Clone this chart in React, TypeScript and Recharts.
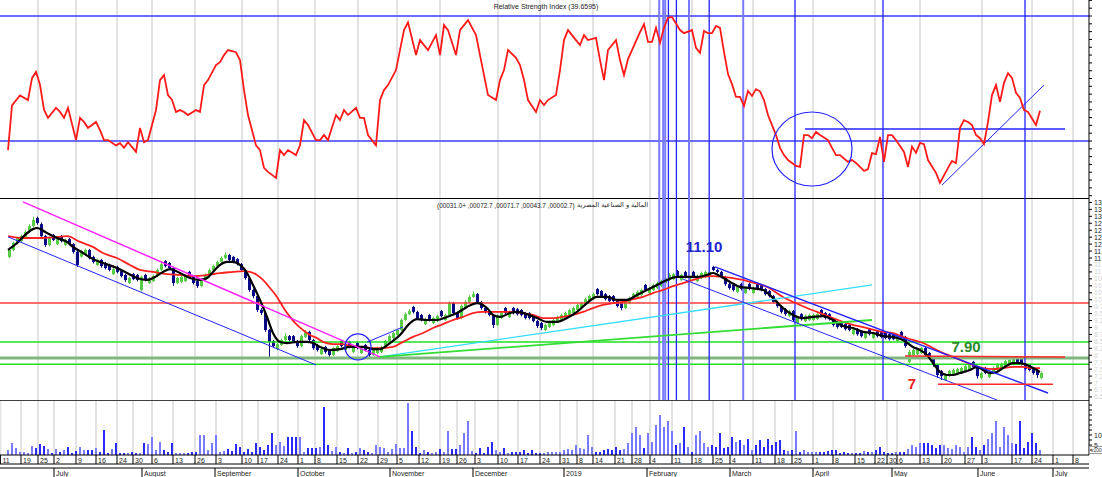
import React from 'react';
import { ComposedChart, Bar, Line, XAxis, YAxis, ReferenceLine, ReferenceDot, Cell, CartesianGrid } from 'recharts';

const X_MIN = -2;
const X_MAX = 270.25;
const RSI_MIN = 11.76;
const RSI_MAX = 75.12;
const PRICE_MIN = 6.39;
const PRICE_MAX = 13.66;
const VOL_MAX = 27.5;

const UP = '#55cc44';
const DOWN = '#0a0a86';
const BLUE = '#2323ff';
const LIGHTBLUE = '#7a7aff';
const FONT = 'Liberation Sans, Arial, sans-serif';

// [open, high, low, close] per trading day
const candles: number[][] = [
  [11.54,11.84,11.49,11.79],[11.79,12.09,11.74,12.04],[12.04,12.27,11.99,12.22],[12.11,12.34,12.07,12.29],[12.26,12.50,12.22,12.44],
  [12.44,12.72,12.40,12.65],[12.65,12.98,12.60,12.87],[12.94,12.99,12.70,12.76],[12.72,12.78,12.22,12.29],[12.29,12.33,11.90,11.97],
  [11.97,12.27,11.92,12.22],[12.33,12.37,12.11,12.15],[12.00,12.23,11.96,12.18],[12.29,12.33,12.06,12.11],[11.97,12.20,11.93,12.15],
  [12.18,12.22,11.95,12.00],[12.00,12.04,11.66,11.72],[11.72,11.76,11.18,11.25],[11.55,11.80,11.51,11.75],[11.61,11.84,11.57,11.79],
  [11.79,11.83,11.45,11.50],[11.54,11.58,11.30,11.36],[11.25,11.48,11.21,11.43],[11.43,11.47,11.15,11.21],[11.32,11.36,11.09,11.14],
  [11.25,11.29,11.02,11.07],[10.92,11.15,10.88,11.10],[11.18,11.22,10.95,11.00],[11.03,11.07,10.80,10.85],[10.89,10.93,10.64,10.71],
  [10.60,10.83,10.56,10.78],[10.92,10.96,10.70,10.74],[10.89,10.93,10.66,10.71],[10.35,10.87,10.30,10.82],[10.89,10.93,10.66,10.71],
  [10.60,10.83,10.56,10.78],[10.67,10.90,10.63,10.85],[10.85,11.12,10.81,11.07],[11.07,11.36,11.03,11.28],[11.39,11.43,11.16,11.21],
  [11.32,11.36,11.09,11.14],[11.14,11.18,10.50,10.60],[10.60,10.83,10.56,10.78],[10.64,10.87,10.60,10.82],[10.67,10.90,10.63,10.85],
  [11.00,11.04,10.77,10.82],[10.82,10.86,10.55,10.60],[10.67,10.71,10.42,10.49],[10.49,10.76,10.45,10.71],[10.71,10.94,10.67,10.89],
  [10.89,11.12,10.85,11.07],[11.07,11.26,11.03,11.21],[11.21,11.41,11.17,11.36],[11.36,11.56,11.32,11.50],[11.50,11.70,11.46,11.61],
  [11.61,11.65,11.38,11.43],[11.54,11.58,11.31,11.36],[11.46,11.50,11.23,11.28],[11.28,11.32,11.02,11.07],[11.07,11.11,10.72,10.78],
  [10.78,10.82,10.28,10.35],[10.35,10.40,10.05,10.13],[10.13,10.17,9.56,9.63],[9.63,9.70,9.45,9.52],[9.52,9.56,8.84,8.91],
  [8.91,8.95,7.94,8.48],[8.51,8.55,8.28,8.33],[8.22,8.45,8.18,8.40],[8.37,8.60,8.33,8.55],[8.55,8.80,8.51,8.69],
  [8.69,8.73,8.50,8.55],[8.69,8.73,8.46,8.51],[8.51,8.55,8.27,8.33],[8.33,8.74,8.29,8.69],[8.66,8.90,8.62,8.84],
  [8.84,8.88,8.50,8.55],[8.55,8.59,8.20,8.26],[8.37,8.41,8.13,8.19],[8.04,8.27,8.00,8.22],[8.30,8.34,8.06,8.12],
  [8.19,8.23,7.94,8.01],[8.01,8.31,7.97,8.26],[8.15,8.38,8.11,8.33],[8.51,8.55,8.28,8.33],[8.19,8.42,8.15,8.37],
  [8.48,8.52,8.25,8.30],[8.12,8.35,8.08,8.30],[8.44,8.48,8.21,8.26],[8.08,8.31,8.04,8.26],[8.37,8.41,8.14,8.19],
  [8.19,8.23,7.94,8.01],[8.01,8.24,7.97,8.19],[8.08,8.31,8.04,8.26],[8.12,8.35,8.08,8.30],[8.30,8.56,8.26,8.51],
  [8.51,8.75,8.47,8.69],[8.62,8.85,8.58,8.80],[8.73,8.96,8.69,8.91],[8.91,9.33,8.87,9.27],[9.27,9.54,9.23,9.48],
  [9.48,9.66,9.44,9.59],[9.74,9.78,9.50,9.56],[9.56,9.60,9.29,9.34],[9.45,9.49,9.22,9.27],[9.12,9.35,9.08,9.30],
  [9.45,9.49,9.22,9.27],[9.16,9.39,9.12,9.34],[9.23,9.46,9.19,9.41],[9.59,9.63,9.36,9.41],[9.27,9.50,9.23,9.45],
  [9.45,9.95,9.41,9.88],[9.88,9.92,9.47,9.52],[9.52,9.56,9.29,9.34],[9.34,9.83,9.30,9.77],[9.74,9.98,9.70,9.92],
  [9.92,10.16,9.88,10.10],[10.10,10.30,10.06,10.20],[10.20,10.24,9.87,9.92],[9.92,9.96,9.64,9.70],[9.70,9.74,9.50,9.56],
  [9.56,9.62,9.40,9.45],[9.45,9.49,8.98,9.09],[9.09,9.47,9.05,9.41],[9.34,9.58,9.30,9.52],[9.70,9.74,9.47,9.52],
  [9.38,9.61,9.34,9.56],[9.70,9.74,9.47,9.52],[9.66,9.70,9.43,9.48],[9.63,9.67,9.40,9.45],[9.52,9.56,9.29,9.34],
  [9.52,9.56,9.29,9.34],[9.41,9.45,9.18,9.23],[9.23,9.27,8.98,9.05],[9.16,9.20,8.90,8.98],[8.91,9.14,8.87,9.09],
  [9.02,9.25,8.98,9.20],[9.09,9.32,9.05,9.27],[9.20,9.43,9.16,9.38],[9.27,9.50,9.23,9.45],[9.34,9.57,9.30,9.52],
  [9.45,9.68,9.41,9.63],[9.52,9.75,9.48,9.70],[9.63,9.86,9.59,9.81],[9.70,9.93,9.66,9.88],[9.84,10.08,9.80,10.02],
  [9.95,10.18,9.91,10.13],[10.02,10.26,9.98,10.20],[10.38,10.42,10.15,10.20],[10.31,10.35,10.08,10.13],[10.20,10.24,9.97,10.02],
  [10.13,10.17,9.90,9.95],[10.13,10.17,9.91,9.95],[9.95,9.99,9.72,9.77],[9.88,9.92,9.62,9.70],[9.70,9.97,9.66,9.92],
  [9.88,10.11,9.84,10.06],[10.06,10.25,10.02,10.20],[10.10,10.33,10.06,10.28],[10.17,10.40,10.13,10.35],[10.53,10.57,10.31,10.35],
  [10.24,10.47,10.20,10.42],[10.35,10.58,10.31,10.53],[10.42,10.65,10.38,10.60],[10.49,10.72,10.45,10.67],[10.60,10.83,10.56,10.78],
  [10.71,10.96,10.67,10.89],[10.74,10.97,10.70,10.92],[11.03,11.07,10.80,10.85],[10.71,10.94,10.67,10.89],[11.00,11.04,10.77,10.82],
  [10.67,10.90,10.63,10.85],[11.00,11.04,10.77,10.82],[10.67,10.90,10.63,10.85],[10.78,11.01,10.74,10.96],[10.82,11.05,10.78,11.00],
  [10.82,11.06,10.78,11.00],[11.18,11.22,11.03,11.07],[11.07,11.11,10.95,11.00],[11.00,11.04,10.77,10.82],[10.82,10.86,10.50,10.56],
  [10.56,10.60,10.36,10.42],[10.53,10.57,10.29,10.35],[10.28,10.51,10.24,10.46],[10.57,10.61,10.33,10.39],[10.24,10.47,10.20,10.42],
  [10.57,10.61,10.34,10.39],[10.24,10.47,10.20,10.42],[10.57,10.61,10.34,10.39],[10.53,10.57,10.30,10.35],[10.38,10.42,10.15,10.20],
  [10.31,10.35,10.08,10.13],[10.13,10.17,9.86,9.92],[9.92,9.96,9.71,9.77],[9.77,9.81,9.50,9.56],[9.66,9.70,9.42,9.48],
  [9.41,9.64,9.37,9.59],[9.59,9.63,9.20,9.27],[9.16,9.39,9.12,9.34],[9.48,9.52,9.25,9.30],[9.23,9.46,9.19,9.41],
  [9.27,9.50,9.23,9.45],[9.27,9.50,9.23,9.45],[9.30,9.53,9.26,9.48],[9.63,9.67,9.40,9.45],[9.52,9.56,9.29,9.34],
  [9.48,9.52,9.25,9.30],[9.30,9.34,9.03,9.09],[9.20,9.24,8.96,9.02],[9.20,9.24,8.98,9.02],[9.12,9.16,8.89,8.94],
  [9.09,9.13,8.86,8.91],[8.76,8.99,8.72,8.94],[8.94,8.98,8.70,8.76],[8.87,8.91,8.64,8.69],[8.62,8.85,8.58,8.80],
  [8.94,8.98,8.71,8.76],[8.62,8.85,8.58,8.80],[8.87,8.91,8.64,8.69],[8.84,8.88,8.61,8.66],[8.80,8.84,8.57,8.62],
  [8.76,8.80,8.53,8.58],[8.76,8.80,8.54,8.58],[8.51,8.74,8.47,8.69],[8.84,8.88,8.61,8.66],[8.66,8.70,8.27,8.33],
  [7.76,8.20,7.72,8.12],[8.01,8.24,7.97,8.19],[8.04,8.27,8.00,8.22],[8.08,8.31,8.04,8.26],[8.26,8.30,7.95,8.01],
  [8.08,8.12,7.84,7.90],[7.90,7.94,7.58,7.65],[7.65,7.69,7.18,7.29],[7.43,7.47,7.11,7.25],[7.11,7.34,7.07,7.29],
  [7.25,7.48,7.21,7.43],[7.29,7.52,7.25,7.47],[7.32,7.55,7.28,7.50],[7.36,7.59,7.32,7.54],[7.43,7.66,7.39,7.61],
  [7.47,7.70,7.43,7.65],[7.76,7.80,7.53,7.58],[7.58,7.62,7.16,7.25],[7.18,7.41,7.14,7.36],[7.54,7.58,7.32,7.36],
  [7.22,7.45,7.18,7.40],[7.36,7.59,7.32,7.54],[7.47,7.70,7.43,7.65],[7.50,7.74,7.46,7.68],[7.61,7.84,7.57,7.79],
  [7.65,7.88,7.61,7.83],[7.68,7.92,7.64,7.86],[7.94,7.98,7.71,7.76],[7.86,7.90,7.63,7.68],[7.68,7.72,7.45,7.50],
  [7.65,7.69,7.42,7.47],[7.54,7.58,7.30,7.36],[7.47,7.51,7.18,7.29],[7.18,7.41,7.14,7.36],
];

// volume per trading day (panel scale x100)
const volumes: number[] = [
  2.5,6,3.5,1.5,1.5,1,4.5,3.5,5.5,4.5,
  3,1,3,1.5,2.5,4,1,2,4,2.5,
  2.5,2.5,3.5,1.5,12.5,1,3,6,1,1,
  1,1.5,1,1,6,5.5,9,2.5,6.5,2.5,
  1.5,6,1,1,1,1,1.5,1.5,10,10,
  2.5,6,10,1.5,2,3,2,5.5,4,1.5,
  3,1.5,6,4,2.5,5,11,5,6.5,4.5,
  9,9,9,9,1.5,3.5,3.5,3.5,4,24,
  5,2,4,1.5,1,3.5,1,1.5,3.5,2.5,
  1.5,1,5,4,3.5,1.5,3,5.5,3.5,3.5,
  26,12,4,1,2.5,1.5,1,1.5,3,1.5,
  12,3,3,5,11,17,2,1,3.5,1,
  4,6.5,2.5,1.5,3.5,1,1.5,1.5,1.5,2.5,
  1,2.5,1,1,1,1.5,1.5,1.5,1.5,2.5,
  3,2.5,5,3.5,3,10,4,1.5,1.5,2.5,
  3,2.5,4,2.5,3,6,11,14,10,3.5,
  11,6.5,15,20,14,17,12,5,6,14,
  4,1.5,10,12,6,4,5,4,11,3.5,
  4,9,6.5,7.5,5,8,2.5,5,7.5,4,
  8,5,6.5,7.5,2.5,2,2.5,12,1.5,2.5,
  1.5,1.5,1.5,1.5,1.5,2,2.5,2.5,1,1.5,
  1,1,1,1,2,1.5,1.5,2.5,4,1.5,
  1,1,1.5,1.5,1.5,3,5,4,6,6,
  6,5,3.5,5,5,3.5,3,5,4,1.5,
  4,9,4,2.5,5,8,11,17,4,14,
  10,6,5.5,17,3.5,6.5,11,6,2.5,
];

// RSI: [day, value]
const rsiPoints: number[][] = [
  [0,27.1],[1,41.4],[3,44.6],[5,43.1],[6,50.1],[7,52.1],[8,48.0],[9,40.0],[10,37.4],[12,40.6],[13,39.3],[14,37.4],[15,40.6],
  [17,30.3],[18,37.4],[19,36.1],[20,34.2],[22,36.1],[23,33.5],[24,30.3],[25,30.3],[27,28.6],[28,29.3],[29,27.8],[30,29.6],
  [32,26.5],[33,34.2],[34,29.6],[35,30.3],[37,39.9],[38,49.5],[39,51.1],[40,44.7],[41,43.1],[42,39.3],[43,39.9],[44,39.3],
  [45,38.3],[47,39.9],[48,39.3],[49,47.9],[50,49.5],[52,54.3],[53,55.2],[54,57.5],[55,59.1],[57,58.4],[58,55.9],[59,46.3],
  [60,38.3],[62,28.6],[63,27.1],[64,21.4],[65,20.1],[67,18.2],[68,27.1],[69,25.5],[70,27.1],[72,25.5],[73,28.6],[74,36.7],
  [75,35.1],[77,30.3],[78,30.3],[79,31.9],[80,30.3],[82,38.3],[83,36.7],[84,39.9],[85,38.3],[87,40.6],[88,37.4],[89,37.4],
  [90,31.9],[92,28.6],[93,43.1],[94,46.3],[95,47.9],[97,52.7],[98,59.1],[99,65.5],[100,68.0],[102,57.5],[103,62.3],[104,60.7],
  [105,59.1],[107,63.9],[108,57.5],[109,67.1],[110,65.5],[112,57.5],[113,65.5],[114,67.1],[115,68.7],[117,63.9],[118,57.5],
  [119,51.1],[120,44.7],[122,43.1],[123,49.5],[124,52.7],[125,59.1],[127,56.6],[128,54.3],[129,49.5],[130,43.1],[132,39.3],
  [133,43.1],[134,41.5],[135,43.1],[137,44.7],[138,52.7],[139,62.3],[140,65.5],[142,62.3],[143,60.7],[144,63.9],[145,62.3],
  [147,63.0],[148,55.9],[149,49.5],[150,59.1],[152,62.3],[153,55.9],[154,51.1],[155,56.2],[158,64.8],[159,67.4],[160,61.7],
  [161,61.7],[162,66.2],[163,61.4],[164,66.2],[165,69.4],[166,69.7],[168,65.5],[169,64.5],[171,65.5],[172,59.8],[173,58.2],
  [174,65.2],[175,64.5],[176,64.5],[177,66.8],[178,66.2],[179,58.5],[180,51.4],[181,48.2],[182,44.1],[183,44.1],[184,41.2],
  [185,46.0],[186,44.4],[187,46.6],[188,45.9],[189,43.1],[190,38.3],[192,31.9],[193,27.8],[194,25.5],[195,23.9],[197,22.0],
  [198,21.7],[199,31.9],[200,31.9],[201,30.9],[202,32.9],[203,31.9],[205,30.3],[206,27.8],[207,25.5],[208,25.5],[210,23.3],
  [211,23.9],[212,23.0],[213,21.7],[214,20.4],[215,21.0],[216,26.1],[217,25.8],[218,31.3],[219,23.3],[220,31.9],[221,31.9],
  [222,30.3],[224,26.5],[225,21.7],[226,28.2],[227,26.2],[228,29.4],[229,29.0],[230,23.9],[232,19.8],[233,16.6],[235,21.4],
  [236,23.6],[237,22.9],[238,34.2],[239,36.7],[240,36.1],[241,35.1],[242,31.9],[243,30.9],[244,29.0],[245,36.1],[246,44.7],
  [247,47.9],[248,42.5],[249,48.6],[250,51.7],[251,50.2],[252,45.4],[253,43.8],[254,39.9],[255,39.3],[257,35.1],[258,39.66],
];

// short moving average (black): [day, value]
const maFast: number[][] = [
  [0,11.79],[2.25,12.04],[3.75,12.26],[6.25,12.54],[7.25,12.58],[9.75,12.40],[12.25,12.22],[14.75,12.08],[16.25,11.90],
  [18.75,11.68],[21.25,11.46],[23.75,11.32],[27.25,11.14],[29.75,10.96],[32.25,10.78],[34.75,10.71],[36.25,10.78],[38.75,11.00],
  [40.5,11.10],[43,10.96],[45.5,10.78],[48,10.71],[49.75,10.78],[51.25,11.00],[53,11.25],[54.75,11.36],[56.25,11.36],[58,11.25],
  [59.75,10.96],[61.25,10.53],[63,9.99],[64.75,9.38],[66.25,8.80],[68,8.48],[69.75,8.44],[72.25,8.48],[74.75,8.48],[76.25,8.44],
  [78,8.30],[80.5,8.19],[83,8.22],[85.5,8.30],[88.75,8.30],[91.25,8.22],[93,8.22],[95.5,8.44],[98,8.73],[100.5,9.16],[102.25,9.30],
  [104.75,9.27],[107.25,9.27],[109.75,9.38],[112.25,9.52],[114.75,9.74],[117.25,9.88],[119.75,9.70],[121.25,9.45],[123,9.38],
  [125.5,9.52],[127.25,9.56],[129.75,9.48],[132.25,9.34],[134.75,9.20],[137.25,9.20],[139.75,9.34],[142.25,9.56],[144.75,9.88],
  [147.25,10.10],[149.75,10.10],[152.25,9.99],[154.75,9.99],[157.25,10.17],[159.75,10.35],[162.25,10.53],[164.75,10.71],
  [167.25,10.82],[169.75,10.82],[172.25,10.82],[174.75,10.89],[176.25,10.96],[178,10.85],[180.5,10.64],[183,10.46],[185.5,10.42],
  [188.75,10.35],[191.25,10.06],[193.75,9.70],[196.25,9.45],[198.75,9.34],[201.25,9.38],[203.75,9.41],[206.25,9.27],[208.75,9.05],
  [211.25,8.98],[213.75,8.84],[216.25,8.80],[218.75,8.69],[221.25,8.66],[223.75,8.55],[226.25,8.30],[228,8.19],[229.75,8.01],
  [231.25,7.72],[233,7.40],[234.75,7.29],[236.25,7.29],[238,7.36],[240.5,7.47],[242.25,7.58],[243.75,7.47],[245.5,7.36],
  [247.25,7.40],[248.75,7.54],[251.25,7.72],[253,7.72],[254.75,7.65],[256.25,7.54],[258,7.40],
];

// long moving average (red): [day, value]
const maSlow: number[][] = [
  [0,12.29],[3.75,12.22],[8,12.22],[12.25,12.26],[14.75,12.29],[18,12.08],[21.25,11.90],[23.75,11.68],[27.25,11.50],[30.5,11.25],
  [33,11.07],[36.25,11.00],[39.75,10.92],[43,10.89],[46.25,10.85],[49.75,10.89],[53,10.96],[56.25,11.00],[58.75,11.03],[60.5,11.00],
  [62.25,10.89],[63.75,10.71],[65.5,10.42],[67.25,10.10],[68.75,9.74],[70.5,9.38],[72.25,9.09],[73.75,8.91],[75.5,8.73],[77.25,8.62],
  [78.75,8.48],[81.25,8.40],[83.75,8.40],[85.5,8.33],[88.75,8.30],[91.25,8.26],[93.75,8.26],[96.25,8.30],[98.75,8.48],[101.25,8.66],
  [103.75,8.80],[106.25,8.98],[108.75,9.12],[111.25,9.27],[113.75,9.38],[116.25,9.52],[118.75,9.56],[121.25,9.56],[123.75,9.56],
  [126.25,9.56],[128.75,9.52],[131.25,9.45],[133.75,9.34],[136.25,9.34],[138.75,9.38],[141.25,9.45],[143.75,9.56],[146.25,9.70],
  [148.75,9.81],[151.25,9.88],[153.75,9.92],[156.25,10.02],[158.75,10.10],[161.25,10.24],[163.75,10.35],[166.25,10.49],[168.75,10.60],
  [171.25,10.71],[173.75,10.82],[176.25,10.85],[178.75,10.82],[181.25,10.78],[183.75,10.71],[185.5,10.64],[189.75,10.46],[193.75,10.10],
  [198,9.81],[202.25,9.56],[206.25,9.34],[210.5,9.12],[214.75,8.98],[218.75,8.84],[221.25,8.80],[223.75,8.66],[226.25,8.55],
  [228.75,8.44],[231.25,8.26],[233.75,8.08],[236.25,7.94],[238.75,7.79],[241.25,7.65],[243.75,7.54],[246.25,7.50],[248.75,7.54],
  [251.25,7.58],[253.75,7.58],[256.25,7.54],[258,7.54],
];

// date axis: [day position, label]
const dayTicks: [number, string][] = [
  [-1.9,'11'],[3.25,'19'],[7.5,'25'],[11.5,'2'],[17,'9'],[22,'16'],[27.25,'24'],[31.25,'30'],[36,'6'],[41.25,'13'],[46.75,'26'],
  [52,'3'],[58.5,'10'],[62.5,'17'],[67.5,'24'],[72.5,'1'],[76.75,'8'],[82.25,'15'],[87.5,'22'],[92.5,'29'],[97.25,'5'],[102.75,'12'],
  [108,'19'],[112.25,'26'],[116.75,'3'],[122.5,'10'],[127.5,'17'],[133,'24'],[138,'31'],[142.25,'8'],[146.25,'14'],[151.75,'21'],
  [156,'28'],[160.5,'4'],[166,'11'],[171,'18'],[176.25,'25'],[180.5,'4'],[186.25,'11'],[191.75,'18'],[196,'25'],[201.25,'1'],
  [206.25,'8'],[211.75,'15'],[216.75,'22'],[219.75,'30'],[222.25,'6'],[228,'13'],[233.5,'20'],[239.25,'27'],[243.5,'3'],[251,'17'],
  [256,'24'],[261.25,'1'],[266.25,'8'],
];
const monthTicks: [number, string][] = [
  [11.5,'July'],[33.5,'August'],[51.75,'September'],[72.5,'October'],[95.5,'November'],[116.25,'December'],[139,'2019'],
  [159.75,'February'],[180.5,'March'],[201.25,'April'],[221,'May'],[242.5,'June'],[261.25,'July'],
];

const rsiTicks = [12.5,15,17.5,20,22.5,25,27.5,30,32.5,35,37.5,40,42.5,45,47.5,50,52.5,55,57.5,60,62.5,65,67.5,70,72.5,75];
const priceTicks = [6.5,6.75,7,7.25,7.5,7.75,8,8.25,8.5,8.75,9,9.25,9.5,9.75,10,10.25,10.5,10.75,11,11.25,11.5,11.75,12,12.25,12.5,12.75,13,13.25,13.5];
const volTicks = [2.5,5,7.5,10,12.5,15,17.5,20,22.5,25];

// marked days (vertical lines)
const markerLight = [162.8, 163.8, 164.3, 170.25, 183.8];
const markerDark = [165.1, 167.1, 175.3, 196.75, 218.75, 254.25];

// horizontal price levels
const levelRed = 9.88;
const levelGreens = [8.48, 7.68];
const levelGrey = 7.9;

const dayIdx = dayTicks.map((t) => t[0]);
const dayLabel = new Map<number, string>(dayTicks);
const monthIdx = monthTicks.map((t) => t[0]);
const monthLabel = new Map<number, string>(monthTicks);

const rows = candles.map((c, i) => ({ i, o: c[0], h: c[1], l: c[2], c: c[3], hl: [c[2], c[1]], v: volumes[i] }));
const rsiRows = rsiPoints.map((p) => ({ i: p[0], r: p[1] }));
const fastRows = maFast.map((p) => ({ i: p[0], m: p[1] }));
const slowRows = maSlow.map((p) => ({ i: p[0], m: p[1] }));

const CandleShape = (props: any) => {
  const { x, y, width, height, payload } = props;
  if (x == null || y == null) return null;
  const top = Math.min(y, y + height);
  const hh = Math.abs(height);
  const { o, h, l, c } = payload;
  const up = c >= o;
  const color = up ? UP : DOWN;
  const range = h - l || 1;
  const yOf = (v: number) => top + ((h - v) / range) * hh;
  const bTop = yOf(Math.max(o, c));
  const bBot = yOf(Math.min(o, c));
  const left = Math.round(x);
  const cx = left + 1.5;
  return (
    <g>
      <line x1={cx} x2={cx} y1={top} y2={top + hh} stroke={color} strokeWidth={1} />
      <rect x={left} y={bTop} width={3} height={Math.max(1.5, bBot - bTop)} fill={color} />
    </g>
  );
};

const DayTick = (props: any) => {
  const { x, y, payload } = props;
  const label = dayLabel.get(payload.value) ?? '';
  return (
    <g>
      <line x1={x} x2={x} y1={y} y2={y + 9} stroke="#000" strokeWidth={1} />
      <text x={x + 2} y={y + 7.5} fontSize={7} fill="#222" fontFamily={FONT}>{label}</text>
    </g>
  );
};

const MonthTick = (props: any) => {
  const { x, y, payload } = props;
  const label = monthLabel.get(payload.value) ?? '';
  return (
    <g>
      <line x1={x} x2={x} y1={y} y2={y + 9} stroke="#000" strokeWidth={1} />
      <text x={x + 2} y={y + 7.5} fontSize={7} fill="#222" fontFamily={FONT}>{label}</text>
    </g>
  );
};

const EmptyTick = () => <g />;

const PriceTick = (props: any) => {
  const { x, y, payload } = props;
  const v = payload.value as number;
  return (
    <text x={x} y={y + 2.5} fontSize={7} fill={v >= 11.4 ? '#222' : '#d4d4d4'} fontFamily={FONT}>{String(v)}</text>
  );
};

const VolTick = (props: any) => {
  const { x, y, payload } = props;
  const v = payload.value as number;
  if (v !== 5 && v !== 10) return <g />;
  return <text x={x} y={y + 2.5} fontSize={7} fill="#222" fontFamily={FONT}>{String(v)}</text>;
};

const Ellipse = (props: any) => (
  <ellipse cx={props.cx} cy={props.cy} rx={40} ry={37} fill="none" stroke={BLUE} strokeWidth={1.2} />
);

const margin = { top: 0, right: 0, bottom: 0, left: 0 };

const hiddenX = (
  <XAxis type="number" dataKey="i" domain={[X_MIN, X_MAX]} hide allowDataOverflow ticks={dayIdx} />
);

function markers() {
  return [
    ...markerLight.map((d) => (
      <ReferenceLine key={'ml' + d} x={d} stroke={LIGHTBLUE} strokeWidth={2} ifOverflow="visible" />
    )),
    ...markerDark.map((d) => (
      <ReferenceLine key={'md' + d} x={d} stroke={BLUE} strokeWidth={1.3} ifOverflow="visible" />
    )),
  ];
}

export default function App() {
  return (
    <div style={{ position: 'absolute', left: 0, top: 0, width: 1102, height: 477, background: '#fff', overflow: 'hidden', fontFamily: FONT }}>
      <div style={{ position: 'absolute', left: 0, top: 0 }}>
        <ComposedChart width={1102} height={198} data={rsiRows} margin={margin}>
          <CartesianGrid horizontal={false} verticalValues={dayIdx} stroke="#e3e3e3" strokeWidth={2} />
          {hiddenX}
          <YAxis orientation="right" width={13} domain={[RSI_MIN, RSI_MAX]} allowDataOverflow ticks={rsiTicks} interval={0}
            axisLine={{ stroke: '#000' }} tickLine={{ stroke: '#000' }} tickSize={3} tick={EmptyTick} />
          <ReferenceLine y={70} stroke="#3b3bff" strokeWidth={1.5} />
          <ReferenceLine y={30} stroke="#3b3bff" strokeWidth={1.5} />
          {markers()}
          <ReferenceLine segment={[{ x: 199.25, y: 33.84 }, { x: 264.25, y: 33.84 }]} stroke={BLUE} strokeWidth={1.3} />
          <ReferenceLine segment={[{ x: 233.5, y: 15.9 }, { x: 259, y: 47.9 }]} stroke={BLUE} strokeWidth={1} />
          <ReferenceDot x={201} y={27.44} r={38} shape={Ellipse} />
          <Line data={rsiRows} dataKey="r" type="linear" stroke="#ff1a1a" strokeWidth={1.8} dot={false} activeDot={false} isAnimationActive={false} />
        </ComposedChart>
      </div>
      <div style={{ position: 'absolute', left: 0, top: 3, width: 1092, textAlign: 'center', fontSize: 7, lineHeight: '8px', color: '#222' }}>
        Relative Strength Index (39.6595)
      </div>

      <div style={{ position: 'absolute', left: 0, top: 198 }}>
        <ComposedChart width={1102} height={202} data={rows} margin={margin}>
          <CartesianGrid horizontal={false} verticalValues={dayIdx} stroke="#e3e3e3" strokeWidth={2} />
          {hiddenX}
          <YAxis orientation="right" width={13} domain={[PRICE_MIN, PRICE_MAX]} allowDataOverflow ticks={priceTicks} interval={0}
            axisLine={{ stroke: '#000' }} tickLine={{ stroke: '#000' }} tickSize={3} tickMargin={2} tick={PriceTick} />
          <ReferenceLine y={PRICE_MAX} stroke="#000" strokeWidth={2} />
          <ReferenceLine y={levelRed} stroke="#ff3b3b" strokeWidth={1.5} />
          <ReferenceLine y={levelGrey} stroke="#7fb77f" strokeWidth={3} />
          {levelGreens.map((g) => (
            <ReferenceLine key={'g' + g} y={g} stroke="#1fe01f" strokeWidth={1.5} />
          ))}
          {markers()}
          <Bar dataKey="hl" barSize={3} shape={CandleShape} isAnimationActive={false} />
          <Line data={slowRows} dataKey="m" type="monotone" stroke="#ff2020" strokeWidth={1.8} dot={false} activeDot={false} isAnimationActive={false} />
          <Line data={fastRows} dataKey="m" type="monotone" stroke="#000" strokeWidth={2.2} dot={false} activeDot={false} isAnimationActive={false} />
          <ReferenceLine segment={[{ x: 3.75, y: 13.52 }, { x: 93, y: 7.94 }]} stroke="#ff22ff" strokeWidth={1.5} />
          <ReferenceLine segment={[{ x: 0, y: 12.26 }, { x: 77, y: 7.65 }]} stroke={BLUE} strokeWidth={1} />
          <ReferenceLine segment={[{ x: 89.75, y: 8.47 }, { x: 98.75, y: 9.02 }]} stroke={BLUE} strokeWidth={1} />
          <ReferenceLine segment={[{ x: 93, y: 7.94 }, { x: 216, y: 10.53 }]} stroke="#33ddff" strokeWidth={1.3} />
          <ReferenceLine segment={[{ x: 93, y: 7.94 }, { x: 216, y: 9.27 }]} stroke="#33dd33" strokeWidth={1.8} />
          <ReferenceLine segment={[{ x: 176.75, y: 11.18 }, { x: 260, y: 6.64 }]} stroke={BLUE} strokeWidth={1.5} />
          <ReferenceLine segment={[{ x: 168.75, y: 10.74 }, { x: 247.25, y: 6.39 }]} stroke={BLUE} strokeWidth={1} />
          <ReferenceLine segment={[{ x: 224.25, y: 7.97 }, { x: 264.25, y: 7.94 }]} stroke="#ff2a2a" strokeWidth={1.5} />
          <ReferenceLine segment={[{ x: 232.5, y: 6.96 }, { x: 261.25, y: 6.96 }]} stroke="#ff2a2a" strokeWidth={1.5} />
          <ReferenceDot x={87.5} y={8.3} r={13} fill="none" stroke={BLUE} strokeWidth={1.3} />
          <ReferenceDot x={174} y={11.9} r={0} fill="none" stroke="none"
            label={{ value: '11.10', position: 'center', fill: '#2222cc', fontSize: 15, fontWeight: 'bold', fontFamily: FONT }} />
          <ReferenceDot x={239.5} y={8.3} r={0} fill="none" stroke="none"
            label={{ value: '7.90', position: 'center', fill: '#2a8a2a', fontSize: 15, fontWeight: 'bold', fontFamily: FONT }} />
          <ReferenceDot x={226} y={6.99} r={0} fill="none" stroke="none"
            label={{ value: '7', position: 'center', fill: '#ee2222', fontSize: 15, fontWeight: 'bold', fontFamily: FONT }} />
        </ComposedChart>
      </div>
      <div style={{ position: 'absolute', left: 437, top: 202, fontSize: 6.4, lineHeight: '8px', color: '#222', whiteSpace: 'nowrap', direction: 'ltr' }}>
        (00031.0+ ,00072.7 ,00071.7 ,00043.7 ,00002.7)
      </div>
      <div style={{ position: 'absolute', left: 577, top: 201, fontSize: 6.5, lineHeight: '9px', color: '#222', whiteSpace: 'nowrap', fontFamily: 'DejaVu Sans, Noto Sans, sans-serif' }}>
        المالية و الصناعية المصرية
      </div>

      <div style={{ position: 'absolute', left: 0, top: 400 }}>
        <ComposedChart width={1102} height={77} data={rows} margin={margin}>
          <CartesianGrid horizontal={false} verticalValues={dayIdx} stroke="#e3e3e3" strokeWidth={2} />
          <XAxis type="number" dataKey="i" domain={[X_MIN, X_MAX]} allowDataOverflow ticks={dayIdx} interval={0} height={9}
            tickLine={false} tickSize={0} tickMargin={0} axisLine={{ stroke: '#000' }} tick={DayTick} />
          <XAxis xAxisId="m" type="number" dataKey="i" domain={[X_MIN, X_MAX]} allowDataOverflow ticks={monthIdx} interval={0} height={9}
            tickLine={false} tickSize={0} tickMargin={0} axisLine={{ stroke: '#000' }} tick={MonthTick} />
          <XAxis xAxisId="b" type="number" dataKey="i" domain={[X_MIN, X_MAX]} allowDataOverflow height={4}
            tickLine={false} tick={false} axisLine={{ stroke: '#000' }} />
          <YAxis orientation="right" width={13} domain={[0, VOL_MAX]} allowDataOverflow ticks={volTicks} interval={0}
            axisLine={{ stroke: '#000' }} tickLine={{ stroke: '#000' }} tickSize={3} tickMargin={2} tick={VolTick} />
          <ReferenceLine y={VOL_MAX} stroke="#000" strokeWidth={1.5} />
          <Bar dataKey="v" barSize={2} isAnimationActive={false}>
            {rows.map((r) => (
              <Cell key={r.i} fill={r.c >= r.o ? '#7a7aff' : '#2a2aff'} />
            ))}
          </Bar>
        </ComposedChart>
      </div>
      <div style={{ position: 'absolute', left: 1089, top: 446, fontSize: 5, color: '#333', border: '1px solid #999', padding: '0 1px', lineHeight: '6px' }}>
        x100
      </div>
    </div>
  );
}
